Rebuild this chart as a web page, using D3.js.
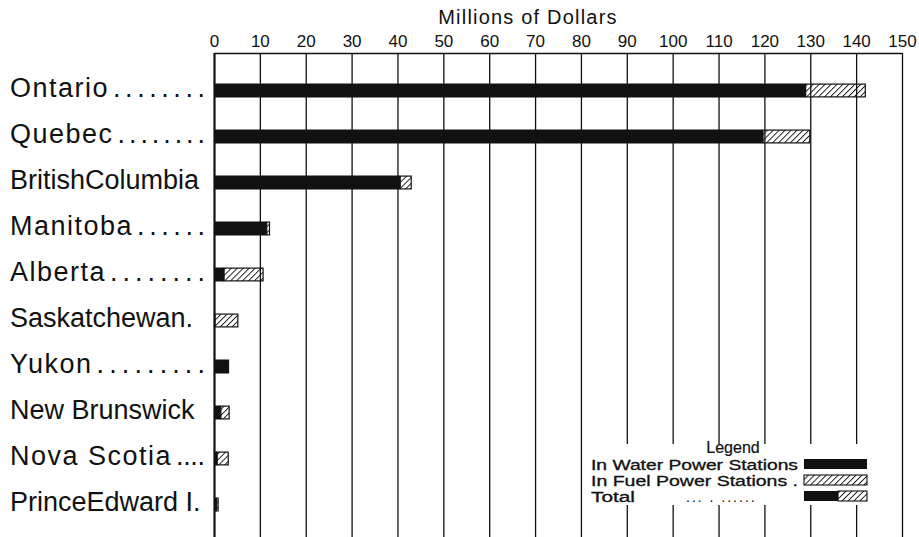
<!DOCTYPE html>
<html>
<head>
<meta charset="utf-8">
<script src="https://cdn.jsdelivr.net/npm/d3@7"></script>
<style>
    body { margin: 0; background: #fff; }
    svg text { font-family: "Liberation Sans", Arial, sans-serif; fill: #111; }
</style>
</head>
<body>
<svg id="chart" width="919" height="537"></svg>
<script>
// data (millions of dollars)
const provinces = ['Ontario', 'Quebec', 'British Columbia', 'Manitoba', 'Alberta',
    'Saskatchewan', 'Yukon', 'New Brunswick', 'Nova Scotia', 'Prince Edward I.'];
const provinceLabels = ['Ontario........', 'Quebec........', 'BritishColumbia', 'Manitoba......',
    'Alberta........', 'Saskatchewan.', 'Yukon.........', 'New Brunswick', 'Nova Scotia....', 'PrinceEdward I.'];
const waterValues = [129, 119.7, 40.6, 11.5, 2.2, 0.2, 3.3, 1.5, 0.7, 0.6];
const fuelValues = [13, 10.2, 2.4, 0.6, 8.5, 5.0, 0, 1.8, 2.4, 0.3];
const tickValues = [0, 10, 20, 30, 40, 50, 60, 70, 80, 90, 100, 110, 120, 130, 140, 150];
const legendLabels = ['In Water Power Stations', 'In Fuel Power Stations .', 'Total'];

const width = 919, height = 537;
const svg = d3.select('#chart');

// hatch pattern for fuel stations
let defs = svg.append('defs');
defs.append('pattern')
    .attr('id', 'hatch')
    .attr('patternUnits', 'userSpaceOnUse')
    .attr('width', 4.2)
    .attr('height', 4.2)
    .attr('patternTransform', 'rotate(45)')
  .append('line')
    .attr('x1', 0).attr('y1', 0)
    .attr('x2', 0).attr('y2', 4.2)
    .attr('stroke', '#111')
    .attr('stroke-width', 1.8);

let xScale = d3.scaleLinear()
    .domain([0, 150])
    .range([214, 902]);

let yScale = d3.scalePoint()
    .domain(provinces)
    .range([90.5, 504.5]);

const axisTop = 53;
const barHeight = 14;

svg.append('text')
    .attr('x', 528)
    .attr('y', 24)
    .attr('text-anchor', 'middle')
    .attr('font-size', '20px')
    .attr('letter-spacing', '1.2px')
    .text('Millions of Dollars');

// top axis with gridlines running down to the bottom edge
let axis = svg.append('g')
    .attr('transform', 'translate(0,' + axisTop + ')')
    .call(d3.axisTop(xScale)
        .tickValues(tickValues)
        .tickFormat(d3.format('d'))
        .tickSizeInner(-(height - axisTop))
        .tickSizeOuter(0)
        .tickPadding(6));
axis.select('.domain')
    .attr('stroke', '#111')
    .attr('stroke-width', 1.6);
axis.selectAll('.tick line')
    .attr('stroke', '#111')
    .attr('stroke-width', 1.3);
axis.selectAll('.tick text')
    .attr('font-size', '17px')
    .attr('font-family', '"Liberation Sans", Arial, sans-serif')
    .attr('fill', '#111');
// thicker zero line
axis.selectAll('.tick')
    .filter(d => d === 0)
    .select('line')
    .attr('stroke-width', 2.2);

// province labels: the name, then a run of leader dots up to the axis
let labelG = svg.append('g');
provinceLabels.forEach((label, i) => {
    let m = label.match(/^(.*?)(\.{2,})?$/);
    let word = m[1], dots = m[2];
    let y = yScale(provinces[i]) + 6.5;
    let t = labelG.append('text')
        .attr('x', 10)
        .attr('y', y)
        .attr('font-size', '27px')
        .attr('letter-spacing', dots ? '1.5px' : '0px')
        .text(word);
    if (dots) {
        let start = 10 + t.node().getComputedTextLength() + 4;
        labelG.append('text')
            .attr('x', start)
            .attr('y', y)
            .attr('font-size', '27px')
            .attr('textLength', 205 - start)
            .attr('lengthAdjust', 'spacing')
            .text(dots);
    }
});

// bars: black = water power, hatched = fuel power
let bars = svg.append('g');
bars.selectAll('rect.water')
    .data(provinces)
    .enter().append('rect')
    .attr('class', 'water')
    .attr('x', xScale(0))
    .attr('y', d => yScale(d) - barHeight / 2)
    .attr('width', (d, i) => xScale(waterValues[i]) - xScale(0))
    .attr('height', barHeight)
    .attr('fill', '#111');

bars.selectAll('rect.fuel')
    .data(provinces.filter((d, i) => fuelValues[i] > 0))
    .enter().append('rect')
    .attr('class', 'fuel')
    .attr('x', d => xScale(waterValues[provinces.indexOf(d)]))
    .attr('y', d => yScale(d) - barHeight / 2 + 0.6)
    .attr('width', d => {
        let i = provinces.indexOf(d);
        return xScale(waterValues[i] + fuelValues[i]) - xScale(waterValues[i]);
    })
    .attr('height', barHeight - 1.2)
    .attr('fill', 'url(#hatch)')
    .attr('stroke', '#111')
    .attr('stroke-width', 1.2);

// legend
let legend = svg.append('g');
legend.append('rect')
    .attr('x', 584)
    .attr('y', 444)
    .attr('width', 288)
    .attr('height', 61)
    .attr('fill', '#fff');
legend.append('text')
    .attr('x', 733)
    .attr('y', 453)
    .attr('text-anchor', 'middle')
    .attr('font-size', '16px')
    .attr('stroke', '#111')
    .attr('stroke-width', 0.2)
    .text('Legend');

let rowY = [470, 486, 502];
legendLabels.forEach((label, i) => {
    legend.append('text')
        .attr('x', 591)
        .attr('y', rowY[i])
        .attr('font-size', '14px')
        .attr('stroke', '#111')
        .attr('stroke-width', 0.3)
        .attr('textLength', i < 2 ? 207 : 44)
        .attr('lengthAdjust', 'spacingAndGlyphs')
        .text(label);
    let sx = 804, sw = 63, sy = rowY[i] - 11;
    if (i === 0) {
        legend.append('rect').attr('x', sx).attr('y', sy)
            .attr('width', sw).attr('height', 10).attr('fill', '#111');
    } else if (i === 1) {
        legend.append('rect').attr('x', sx).attr('y', sy)
            .attr('width', sw).attr('height', 10)
            .attr('fill', 'url(#hatch)').attr('stroke', '#111').attr('stroke-width', 1.1);
    } else {
        legend.append('text')
            .attr('x', 686)
            .attr('y', rowY[i])
            .attr('font-size', '14px')
            .attr('letter-spacing', '2px')
            .text('...      .  ......');
        legend.append('rect').attr('x', sx).attr('y', sy)
            .attr('width', 34).attr('height', 10).attr('fill', '#111');
        legend.append('rect').attr('x', sx + 34).attr('y', sy)
            .attr('width', sw - 34).attr('height', 10)
            .attr('fill', 'url(#hatch)').attr('stroke', '#111').attr('stroke-width', 1.1);
    }
});
</script>
</body>
</html>
